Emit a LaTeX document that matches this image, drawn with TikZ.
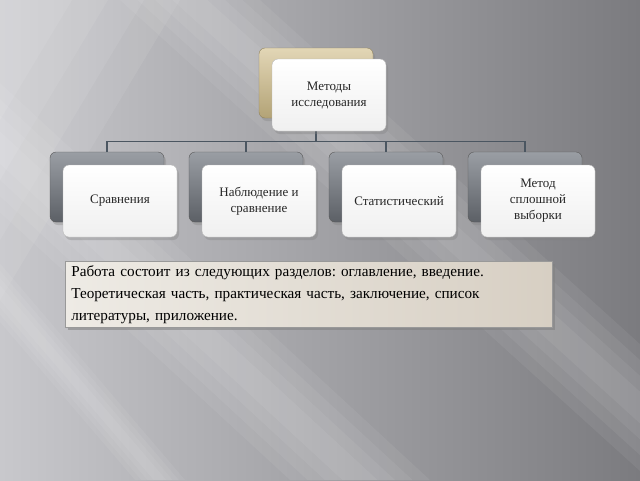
\documentclass[tikz,border=0pt]{standalone}
\usepackage{fontspec}
\setmainfont{Liberation Serif}
\usetikzlibrary{shadows}

\definecolor{bgleft}{HTML}{C8C8CC}
\definecolor{bgright}{HTML}{7B7B7F}
\definecolor{cardtop}{HTML}{9A9EA4}
\definecolor{cardbot}{HTML}{5C6066}
\definecolor{goldtop}{HTML}{E2D6B6}
\definecolor{goldbot}{HTML}{B3A376}
\definecolor{linkcol}{HTML}{4B5661}
\definecolor{paperleft}{HTML}{EEEBE5}
\definecolor{paperright}{HTML}{D7CFC3}

\tikzset{
  backcard/.style={rounded corners=6pt, minimum width=114pt, minimum height=70pt,
    top color=cardtop, bottom color=cardbot, draw=gray!70!black, line width=0.4pt,
    drop shadow={shadow xshift=2pt, shadow yshift=-3pt, opacity=0.35}},
  goldcard/.style={backcard, top color=goldtop, bottom color=goldbot, draw=goldbot!80!black},
  frontcard/.style={rounded corners=6pt, minimum width=114pt, minimum height=72pt,
    top color=white, bottom color=gray!12, draw=gray!55, line width=0.4pt, align=center,
    font=\fontsize{13}{16}\selectfont, text=black!85,
    drop shadow={shadow xshift=2pt, shadow yshift=-3pt, opacity=0.35}},
  link/.style={draw=linkcol, line width=1.3pt},
  textbox/.style={anchor=north west, left color=paperleft, right color=paperright,
    draw=gray!80, line width=0.6pt, text width=475pt, inner xsep=6pt,
    minimum height=66pt, align=left, font=\fontsize{15.2}{22}\selectfont\frenchspacing,
    drop shadow={shadow xshift=3pt, shadow yshift=-3pt, opacity=0.55}}
}

\begin{document}
\begin{tikzpicture}[x=1pt,y=-1pt]
  \useasboundingbox (0,0) rectangle (640,480);
  % background with soft light streaks
  \begin{scope}
    \clip (0,0) rectangle (640,480);
    \shade[left color=bgleft, right color=bgright] (0,0) rectangle (640,480);
    \foreach \f in {1,0.8,0.6,0.4}
      \fill[white, opacity=0.07] (0,0) -- (\f*180,0) -- (0,\f*300) -- cycle;
    \foreach \xa/\xb/\wmax in {190/720/70, -160/360/70, -250/160/25}
      \foreach \f in {1,0.75,0.5,0.25}
        \fill[white, opacity=0.06]
          (\xa-\f*\wmax,0) -- (\xa+\f*\wmax,0) -- (\xb+\f*\wmax,480) -- (\xb-\f*\wmax,480) -- cycle;
  \end{scope}

  % cards at the back
  \node[goldcard] (top) at (316,83) {};
  \foreach \name/\x in {c1/107, c2/246, c3/386, c4/525}
    \node[backcard] (\name) at (\x,187) {};

  \draw[link] (top.south) -- ++(0,23) -| (c1.north);
  \draw[link] (top.south) -- ++(0,23) -| (c2.north);
  \draw[link] (top.south) -- ++(0,23) -| (c3.north);
  \draw[link] (top.south) -- ++(0,23) -| (c4.north);

  % cards in front
  \node[frontcard] (topf) at (329,95) {Методы\\исследования};
  \node[frontcard] (f1) at (120,201) {Сравнения};
  \node[frontcard] (f2) at (259,201) {Наблюдение и\\сравнение};
  \node[frontcard] (f3) at (399,201) {Статистический};
  \node[frontcard] (f4) at (538,201) {Метод\\сплошной\\выборки};

  \node[textbox] (work) at (65,261) {Работа состоит из следующих разделов: оглавление, введение.\\
    Теоретическая часть, практическая часть, заключение, список\\
    литературы, приложение.};
\end{tikzpicture}
\end{document}
